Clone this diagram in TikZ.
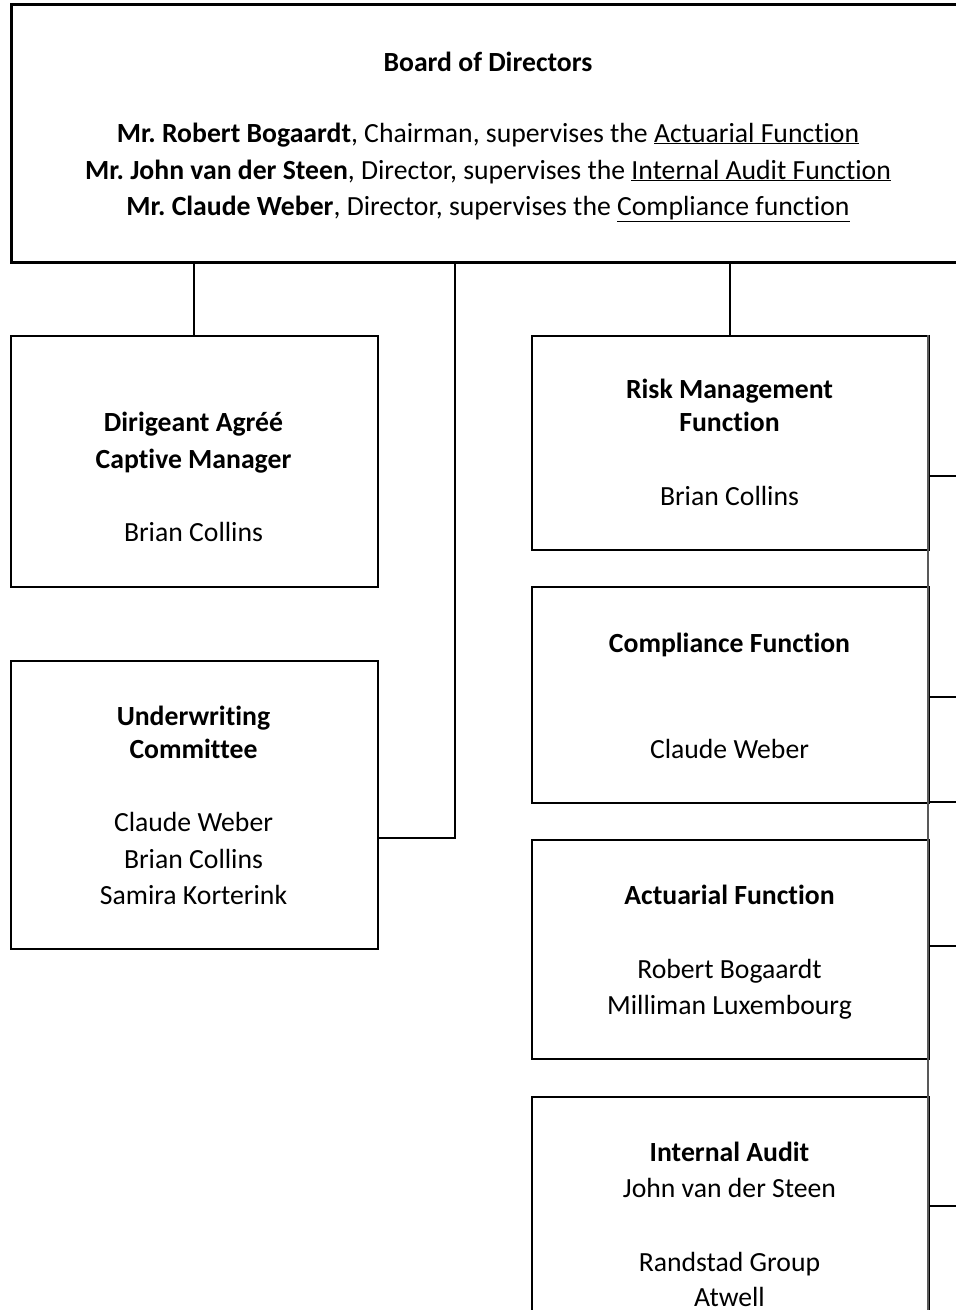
\documentclass[tikz,border=0pt]{standalone}
\usepackage{fontspec}
\setmainfont[Ligatures={NoCommon}]{Carlito}
\frenchspacing
\begin{document}
\begin{tikzpicture}[x=1pt,y=-1pt,
  box/.style={draw=black,line width=1.5pt,rectangle,inner sep=0pt,anchor=north west},
  txt/.style={anchor=base,inner sep=0pt,font=\fontsize{27.7}{36}\selectfont},
  conn/.style={draw=black,line width=1.6pt},
  rail/.style={draw=black!65,line width=1.6pt}]
\useasboundingbox (0,0) rectangle (956,1310);
\clip (0,0) rectangle (956,1310);
% boxes
\node[box,line width=2.6pt,minimum width=980pt,minimum height=258pt] (board) at (10,3) {};
\node[box,minimum width=367pt,minimum height=251pt] (dir) at (10,335) {};
\node[box,minimum width=367pt,minimum height=288pt] (uw) at (10,660) {};
\node[box,minimum width=397pt,minimum height=214pt] (risk) at (531,335) {};
\node[box,minimum width=397pt,minimum height=216pt] (comp) at (531,586) {};
\node[box,minimum width=397pt,minimum height=219pt] (act) at (531,839) {};
\node[box,minimum width=397pt,minimum height=300pt] (ia) at (531,1096) {};
% texts
\node[txt] (t1) at (488,71) {\textbf{Board of Directors}};
\node[txt] (t2) at (488,142) {\textbf{Mr. Robert Bogaardt}, Chairman, supervises the \underline{Actuarial Function}};
\node[txt] (t3) at (488,179) {\textbf{Mr. John van der Steen}, Director, supervises the \underline{Internal Audit Function}};
\node[txt] (t4) at (488,215) {\textbf{Mr. Claude Weber}, Director, supervises the \underline{Compliance function}};
\node[txt] (d1) at (193.5,431) {\textbf{Dirigeant Agréé}};
\node[txt] (d2) at (193.5,468) {\textbf{Captive Manager}};
\node[txt] (d3) at (193.5,541) {Brian Collins};
\node[txt] (u1) at (193.5,725) {\textbf{Underwriting}};
\node[txt] (u2) at (193.5,758) {\textbf{Committee}};
\node[txt] (u3) at (193.5,831) {Claude Weber};
\node[txt] (u4) at (193.5,868) {Brian Collins};
\node[txt] (u5) at (193.5,904) {Samira Korterink};
\node[txt] (r1) at (729.5,398) {\textbf{Risk Management}};
\node[txt] (r2) at (729.5,431) {\textbf{Function}};
\node[txt] (r3) at (729.5,505) {Brian Collins};
\node[txt] (c1) at (729.5,652) {\textbf{Compliance Function}};
\node[txt] (c2) at (729.5,758) {Claude Weber};
\node[txt] (a1) at (729.5,904) {\textbf{Actuarial Function}};
\node[txt] (a2) at (729.5,978) {Robert Bogaardt};
\node[txt] (a3) at (729.5,1014) {Milliman Luxembourg};
\node[txt] (i1) at (729.5,1161) {\textbf{Internal Audit}};
\node[txt] (i2) at (729.5,1197) {John van der Steen};
\node[txt] (i3) at (729.5,1271) {Randstad Group};
\node[txt] (i4) at (729.5,1306) {Atwell};
% coordinates
\coordinate (ucorner) at (455,838);
\coordinate (railtop) at (928,335);
\coordinate (railbot) at (928,1320);
\coordinate (e1) at (960,476);
\coordinate (e2) at (960,697);
\coordinate (e3) at (960,802);
\coordinate (e4) at (960,946);
\coordinate (e5) at (960,1206);
% connectors
\draw[conn] (board.south -| dir.north) -- (dir.north);
\draw[conn] (board.south -| risk.north) -- (risk.north);
\draw[conn] (board.south -| ucorner) -- (ucorner) -- (ucorner -| uw.east);
\draw[rail] (railtop) -- (railbot);
\draw[conn] (e1 -| risk.east) -- (e1);
\draw[conn] (e2 -| comp.east) -- (e2);
\draw[conn] (e3 -| comp.east) -- (e3);
\draw[conn] (e4 -| act.east) -- (e4);
\draw[conn] (e5 -| ia.east) -- (e5);
\end{tikzpicture}
\end{document}
